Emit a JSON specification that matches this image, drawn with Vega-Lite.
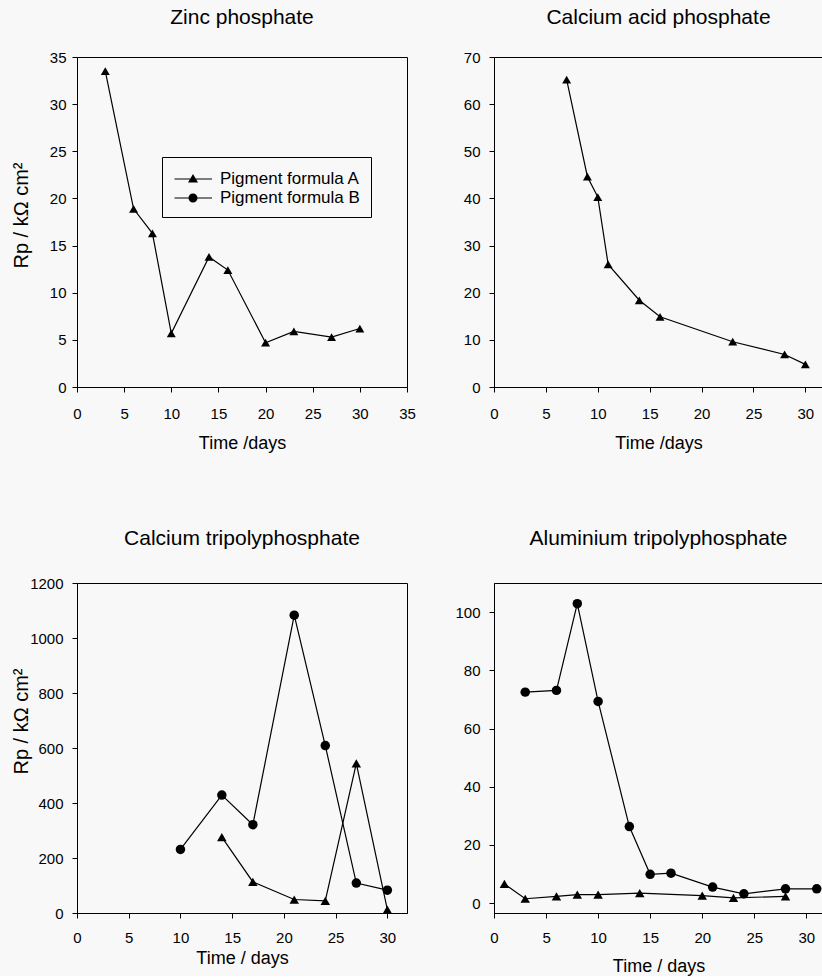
{
  "$schema": "https://vega.github.io/schema/vega-lite/v6.json",
  "background": "#f8f8f8",
  "padding": {"left": 10, "top": 6, "right": 0, "bottom": 0},
  "bounds": "flush",
  "columns": 2,
  "spacing": {"row": 196, "column": 87},
  "resolve": {"scale": {"shape": "independent"}, "legend": {"shape": "independent"}},
  "config": {
    "view": {"stroke": "black", "strokeWidth": 1},
    "font": "Liberation Sans",
    "title": {"font": "Liberation Sans", "fontSize": 21, "fontWeight": "normal", "color": "black"},
    "axis": {
      "domainColor": "black", "tickColor": "black", "labelColor": "black", "titleColor": "black",
      "labelFont": "Liberation Sans", "titleFont": "Liberation Sans",
      "labelFontSize": 15, "titleFontSize": 18, "titleFontWeight": "normal",
      "grid": false, "tickSize": 5, "labelFlush": false, "labelOverlap": false
    },
    "axisX": {"labelPadding": 14, "titleBaseline": "alphabetic"},
    "axisY": {"labelPadding": 9, "titleFontSize": 20}
  },
  "datasets": {
    "zinc": [
      {"day": 3, "rp": 33.5, "series": "Pigment formula A"},
      {"day": 6, "rp": 18.9, "series": "Pigment formula A"},
      {"day": 8, "rp": 16.3, "series": "Pigment formula A"},
      {"day": 10, "rp": 5.7, "series": "Pigment formula A"},
      {"day": 14, "rp": 13.8, "series": "Pigment formula A"},
      {"day": 16, "rp": 12.4, "series": "Pigment formula A"},
      {"day": 20, "rp": 4.7, "series": "Pigment formula A"},
      {"day": 23, "rp": 5.9, "series": "Pigment formula A"},
      {"day": 27, "rp": 5.3, "series": "Pigment formula A"},
      {"day": 30, "rp": 6.2, "series": "Pigment formula A"}
    ],
    "legendRows": [
      {"series": "Pigment formula A"},
      {"series": "Pigment formula B"}
    ],
    "acid": [
      {"day": 7, "rp": 65.2, "series": "Pigment formula A"},
      {"day": 9, "rp": 44.6, "series": "Pigment formula A"},
      {"day": 10, "rp": 40.3, "series": "Pigment formula A"},
      {"day": 11, "rp": 26.0, "series": "Pigment formula A"},
      {"day": 14, "rp": 18.4, "series": "Pigment formula A"},
      {"day": 16, "rp": 14.9, "series": "Pigment formula A"},
      {"day": 23, "rp": 9.6, "series": "Pigment formula A"},
      {"day": 28, "rp": 6.9, "series": "Pigment formula A"},
      {"day": 30, "rp": 4.8, "series": "Pigment formula A"}
    ],
    "catri": [
      {"day": 10, "rp": 231, "series": "Pigment formula B"},
      {"day": 14, "rp": 429, "series": "Pigment formula B"},
      {"day": 17, "rp": 321, "series": "Pigment formula B"},
      {"day": 21, "rp": 1083, "series": "Pigment formula B"},
      {"day": 24, "rp": 609, "series": "Pigment formula B"},
      {"day": 27, "rp": 109, "series": "Pigment formula B"},
      {"day": 30, "rp": 83, "series": "Pigment formula B"},
      {"day": 14, "rp": 276, "series": "Pigment formula A"},
      {"day": 17, "rp": 113, "series": "Pigment formula A"},
      {"day": 21, "rp": 49, "series": "Pigment formula A"},
      {"day": 24, "rp": 44, "series": "Pigment formula A"},
      {"day": 27, "rp": 544, "series": "Pigment formula A"},
      {"day": 30, "rp": 12, "series": "Pigment formula A"}
    ],
    "altri": [
      {"day": 3, "rp": 72.5, "series": "Pigment formula B"},
      {"day": 6, "rp": 73.1, "series": "Pigment formula B"},
      {"day": 8, "rp": 102.9, "series": "Pigment formula B"},
      {"day": 10, "rp": 69.3, "series": "Pigment formula B"},
      {"day": 13, "rp": 26.3, "series": "Pigment formula B"},
      {"day": 15, "rp": 9.9, "series": "Pigment formula B"},
      {"day": 17, "rp": 10.3, "series": "Pigment formula B"},
      {"day": 21, "rp": 5.5, "series": "Pigment formula B"},
      {"day": 24, "rp": 3.2, "series": "Pigment formula B"},
      {"day": 28, "rp": 4.9, "series": "Pigment formula B"},
      {"day": 31, "rp": 4.9, "series": "Pigment formula B"},
      {"day": 1, "rp": 6.6, "series": "Pigment formula A"},
      {"day": 3, "rp": 1.5, "series": "Pigment formula A"},
      {"day": 6, "rp": 2.3, "series": "Pigment formula A"},
      {"day": 8, "rp": 2.9, "series": "Pigment formula A"},
      {"day": 10, "rp": 2.9, "series": "Pigment formula A"},
      {"day": 14, "rp": 3.4, "series": "Pigment formula A"},
      {"day": 20, "rp": 2.6, "series": "Pigment formula A"},
      {"day": 23, "rp": 1.8, "series": "Pigment formula A"},
      {"day": 28, "rp": 2.3, "series": "Pigment formula A"}
    ]
  },
  "concat": [
    {
      "title": {"text": "Zinc phosphate", "offset": 22},
      "width": 330,
      "height": 330,
      "layer": [
        {
          "data": {"name": "zinc"},
          "mark": {"type": "line", "color": "black", "strokeWidth": 1.2},
          "encoding": {
            "x": {"field": "day", "type": "quantitative", "scale": {"domain": [0, 35], "nice": false, "zero": false},
                  "axis": {"values": [0, 5, 10, 15, 20, 25, 30, 35], "title": "Time /days", "titleY": 61}},
            "y": {"field": "rp", "type": "quantitative", "scale": {"domain": [0, 35], "nice": false, "zero": false},
                  "axis": {"values": [0, 5, 10, 15, 20, 25, 30, 35], "title": "Rp / kΩ cm²", "titleX": -46, "titleY": 158, "labelPadding": 6}}
          }
        },
        {
          "data": {"name": "zinc"},
          "mark": {"type": "point", "shape": "triangle-up", "filled": true, "color": "black", "size": 80, "opacity": 1},
          "encoding": {
            "x": {"field": "day", "type": "quantitative"},
            "y": {"field": "rp", "type": "quantitative"}
          }
        },
        {
          "data": {"name": "legendRows"},
          "mark": {"type": "point", "filled": true, "color": "black", "opacity": 0},
          "encoding": {
            "shape": {
              "field": "series", "type": "nominal",
              "scale": {
                "domain": ["Pigment formula A", "Pigment formula B"],
                "range": [
                  "M-1.85,-0.06L1.9,-0.06L1.9,0.06L-1.85,0.06Z M0,-0.5L0.5,0.35L-0.5,0.35Z",
                  "M-1.85,-0.06L1.9,-0.06L1.9,0.06L-1.85,0.06Z M0.45,0A0.45,0.45,0,1,1,-0.45,0A0.45,0.45,0,1,1,0.45,0Z"
                ]
              },
              "legend": {
                "title": null, "orient": "none", "legendX": 85, "legendY": 100,
                "strokeColor": "black", "fillColor": "#f8f8f8", "padding": 11,
                "symbolOffset": 9, "labelOffset": 16, "symbolSize": 400,
                "symbolOpacity": 1,
                "labelFontSize": 17, "labelFont": "Liberation Sans", "labelColor": "black", "rowPadding": 0,
                "encode": {
                  "symbols": {
                    "update": {
                      "stroke": {"value": "black"},
                      "strokeWidth": {"value": 0.5},
                      "fill": {"value": "black"},
                      "opacity": {"value": 1}
                    }
                  }
                }
              }
            }
          }
        }
      ]
    },
    {
      "title": {"text": "Calcium acid phosphate", "offset": 22},
      "width": 329,
      "height": 330,
      "layer": [
        {
          "data": {"name": "acid"},
          "mark": {"type": "line", "color": "black", "strokeWidth": 1.2},
          "encoding": {
            "x": {"field": "day", "type": "quantitative", "scale": {"domain": [0, 31.7], "nice": false, "zero": false},
                  "axis": {"values": [0, 5, 10, 15, 20, 25, 30], "title": "Time /days", "titleY": 61}},
            "y": {"field": "rp", "type": "quantitative", "scale": {"domain": [0, 70], "nice": false, "zero": false},
                  "axis": {"values": [0, 10, 20, 30, 40, 50, 60, 70], "title": null}}
          }
        },
        {
          "data": {"name": "acid"},
          "mark": {"type": "point", "shape": "triangle-up", "filled": true, "color": "black", "size": 80, "opacity": 1},
          "encoding": {
            "x": {"field": "day", "type": "quantitative"},
            "y": {"field": "rp", "type": "quantitative"}
          }
        }
      ]
    },
    {
      "title": {"text": "Calcium tripolyphosphate", "offset": 27},
      "width": 330,
      "height": 330,
      "layer": [
        {
          "data": {"name": "catri"},
          "mark": {"type": "line", "color": "black", "strokeWidth": 1.2},
          "encoding": {
            "x": {"field": "day", "type": "quantitative", "scale": {"domain": [0, 31.9], "nice": false, "zero": false},
                  "axis": {"values": [0, 5, 10, 15, 20, 25, 30], "title": "Time / days", "titleY": 50, "labelPadding": 12}},
            "y": {"field": "rp", "type": "quantitative", "scale": {"domain": [0, 1200], "nice": false, "zero": false},
                  "axis": {"values": [0, 200, 400, 600, 800, 1000, 1200], "format": "d", "title": "Rp / kΩ cm²", "titleX": -46, "titleY": 138}},
            "detail": {"field": "series", "type": "nominal"}
          }
        },
        {
          "data": {"name": "catri"},
          "mark": {"type": "point", "filled": true, "color": "black", "size": 90, "opacity": 1},
          "encoding": {
            "x": {"field": "day", "type": "quantitative"},
            "y": {"field": "rp", "type": "quantitative"},
            "shape": {"field": "series", "type": "nominal", "scale": {"domain": ["Pigment formula A", "Pigment formula B"], "range": ["triangle-up", "circle"]}, "legend": null}
          }
        }
      ]
    },
    {
      "title": {"text": "Aluminium tripolyphosphate", "offset": 34},
      "width": 329,
      "height": 330,
      "layer": [
        {
          "data": {"name": "altri"},
          "mark": {"type": "line", "color": "black", "strokeWidth": 1.2},
          "encoding": {
            "x": {"field": "day", "type": "quantitative", "scale": {"domain": [0, 31.6], "nice": false, "zero": false},
                  "axis": {"values": [0, 5, 10, 15, 20, 25, 30], "title": "Time / days", "titleY": 58, "labelPadding": 12}},
            "y": {"field": "rp", "type": "quantitative", "scale": {"domain": [-3.4, 110], "nice": false, "zero": false},
                  "axis": {"values": [0, 20, 40, 60, 80, 100], "title": null}},
            "detail": {"field": "series", "type": "nominal"}
          }
        },
        {
          "data": {"name": "altri"},
          "mark": {"type": "point", "filled": true, "color": "black", "size": 90, "opacity": 1},
          "encoding": {
            "x": {"field": "day", "type": "quantitative"},
            "y": {"field": "rp", "type": "quantitative"},
            "shape": {"field": "series", "type": "nominal", "scale": {"domain": ["Pigment formula A", "Pigment formula B"], "range": ["triangle-up", "circle"]}, "legend": null}
          }
        }
      ]
    }
  ]
}
